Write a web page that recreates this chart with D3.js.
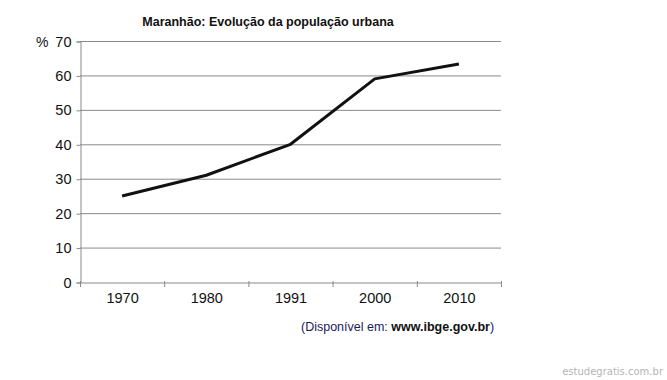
<!DOCTYPE html>
<html>
<head>
<meta charset="utf-8">
<script src="https://cdn.jsdelivr.net/npm/d3@7"></script>
<style>
  body { margin: 0; background: #fff; }
  svg { display: block; font-family: "Liberation Sans", Arial, sans-serif; }
</style>
</head>
<body>
<svg id="chart" width="667" height="380"></svg>
<script>
const years = ["1970", "1980", "1991", "2000", "2010"];
const urbanPct = [25, 31, 40, 59, 63.3];
const yTicks = [0, 10, 20, 30, 40, 50, 60, 70];

const svg = d3.select("#chart");
const plotLeft = 80, plotRight = 501, plotTop = 41, plotBottom = 282;

const x = d3.scaleBand().domain(years).range([plotLeft, plotRight]);
const y = d3.scaleLinear().domain([0, 70]).range([plotBottom, plotTop]);

// gridlines
svg.append("g")
    .selectAll("line")
    .data(yTicks.filter(d => d > 0))
    .enter()
    .append("line")
    .attr("x1", plotLeft)
    .attr("x2", plotRight)
    .attr("y1", d => y(d) + 0.5)
    .attr("y2", d => y(d) + 0.5)
    .attr("stroke", "#8a8a8a")
    .attr("stroke-width", 1);

// y axis
const yAxis = svg.append("g")
    .attr("transform", `translate(${plotLeft + 0.5},0.5)`)
    .call(d3.axisLeft(y).tickValues(yTicks).tickSize(4).tickPadding(5));
yAxis.select(".domain").attr("stroke", "#8a8a8a");
yAxis.selectAll(".tick line").attr("stroke", "#8a8a8a");
yAxis.selectAll(".tick text")
    .attr("fill", "#111")
    .style("font-size", "14.5px")
    .style("font-family", "'Liberation Sans', Arial, sans-serif");

// x axis
const xAxis = svg.append("g")
    .attr("transform", `translate(0.5,${plotBottom + 0.5})`)
    .call(d3.axisBottom(x).tickSize(0).tickPadding(10));
xAxis.select(".domain").attr("stroke", "#8a8a8a");
xAxis.selectAll(".tick text")
    .attr("fill", "#111")
    .style("font-size", "14.5px")
    .style("font-family", "'Liberation Sans Narrow', 'Arial Narrow', 'Liberation Sans', sans-serif");

// band separators below x axis
svg.append("g")
    .selectAll("line")
    .data(years.map(d => x(d)).concat([plotRight]))
    .enter()
    .append("line")
    .attr("x1", d => d + 0.5)
    .attr("x2", d => d + 0.5)
    .attr("y1", plotBottom - 1)
    .attr("y2", plotBottom + 5)
    .attr("stroke", "#8a8a8a");

// line
const line = d3.line()
    .x((d, i) => x(years[i]) + x.bandwidth() / 2)
    .y(d => y(d));

svg.append("path")
    .datum(urbanPct)
    .attr("d", line)
    .attr("fill", "none")
    .attr("stroke", "#111")
    .attr("stroke-width", 3)
    .attr("stroke-linejoin", "round");

// texts
svg.append("text")
    .attr("x", 268)
    .attr("y", 26)
    .attr("text-anchor", "middle")
    .style("font-size", "12.5px")
    .style("font-weight", "bold")
    .attr("fill", "#111")
    .text("Maranhão: Evolução da população urbana");

svg.append("text")
    .attr("x", 36)
    .attr("y", 47)
    .style("font-size", "14px")
    .attr("fill", "#111")
    .text("%");

const src = svg.append("text")
    .attr("x", 301)
    .attr("y", 331)
    .style("font-size", "12.5px")
    .attr("fill", "#111");
src.append("tspan").attr("fill", "#1a1a5a").text("(Disponível em: ");
src.append("tspan").style("font-weight", "bold").text("www.ibge.gov.br");
src.append("tspan").attr("fill", "#1a1a5a").text(")");

svg.append("text")
    .attr("x", 663)
    .attr("y", 375)
    .attr("text-anchor", "end")
    .style("font-size", "10px")
    .style("font-family", "'DejaVu Sans', sans-serif")
    .attr("fill", "#b5b5b5")
    .text("estudegratis.com.br");
</script>
</body>
</html>
